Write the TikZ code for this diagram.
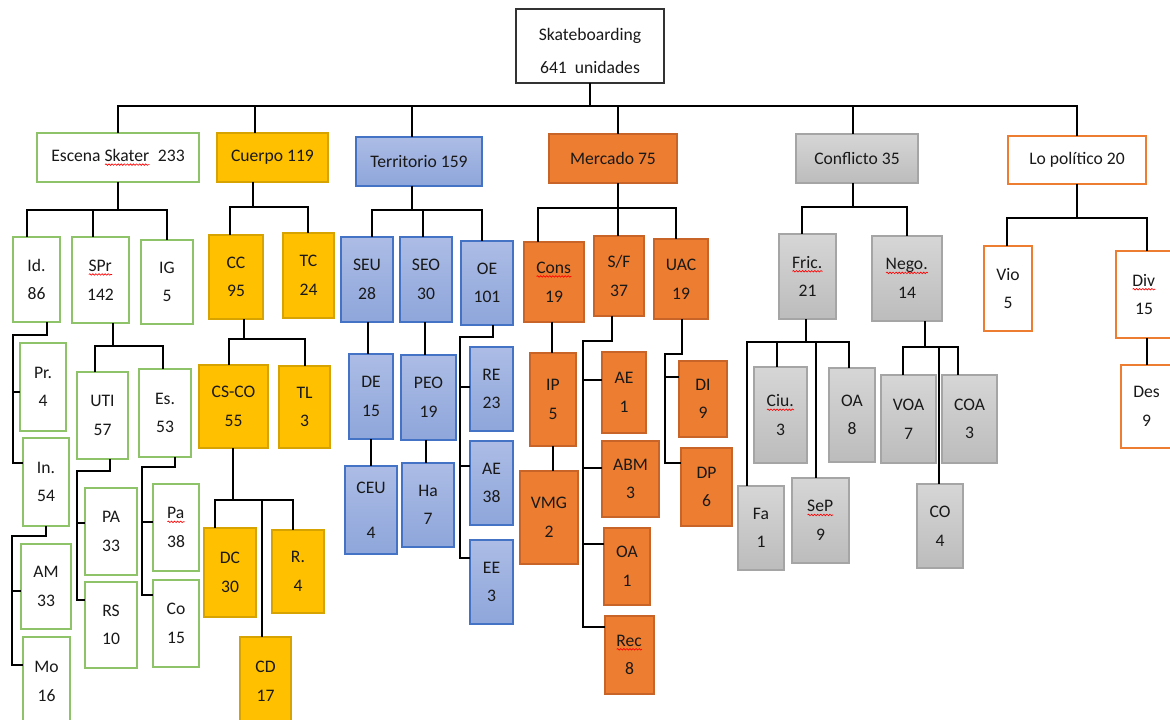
\documentclass[tikz,border=0pt]{standalone}
\usepackage{fontspec}
\setmainfont{Carlito}
\usetikzlibrary{decorations.pathmorphing}
\newcommand\sqw[1]{\setbox0\hbox{#1}\rlap{\usebox0}\tikz[baseline=0pt]{\draw[red,line width=0.5pt,decorate,decoration={snake,amplitude=0.55pt,segment length=2.3pt}] (0pt,-2.3pt) -- (\wd0,-2.3pt);}}
\definecolor{grnc}{RGB}{143,195,105}
\definecolor{goldc}{RGB}{255,192,0}
\definecolor{goldd}{RGB}{214,163,0}
\definecolor{orgc}{RGB}{237,125,49}
\definecolor{orgd}{RGB}{200,100,40}
\definecolor{blut}{RGB}{172,188,229}
\definecolor{blub}{RGB}{142,166,219}
\definecolor{blud}{RGB}{68,114,196}
\definecolor{gryt}{RGB}{214,214,214}
\definecolor{gryb}{RGB}{188,188,188}
\definecolor{gryd}{RGB}{165,165,165}
\definecolor{txt}{RGB}{25,25,25}
\tikzset{
 bxs/.style={rectangle, inner sep=0pt, outer sep=0pt, align=center, text=txt,
   font=\fontsize{13.2}{21.5}\selectfont, line width=1.1pt},
 rootbox/.style={bxs, draw=black!80, fill=white, line width=0.9pt},
 grn/.style={bxs, draw=grnc, fill=white},
 gold/.style={bxs, draw=goldd, fill=goldc},
 blu/.style={bxs, draw=blud, top color=blut, bottom color=blub},
 org/.style={bxs, draw=orgd, fill=orgc},
 gry/.style={bxs, draw=gryd, top color=gryt, bottom color=gryb},
 polbox/.style={bxs, draw=orgc, fill=white},
 conn/.style={line width=2pt, black}
}
\newcommand\bx[7]{\node[#1,minimum width={(#5-(#3))*0.75pt},minimum height={(#6-(#4))*0.75pt}] (#2) at ({(#3+#5)/2},{(#4+#6)/2}) {#7};}
\begin{document}
\begin{tikzpicture}[x=0.75pt,y=-0.75pt]
\useasboundingbox (0,0) rectangle (1170,720);
\fill[white] (0,0) rectangle (1170,720);
\clip (0,0) rectangle (1170,720);
% level 0 / 1
\bx{rootbox}{root}{516}{9}{664}{83}{\rule{0pt}{17pt}Skateboarding\\[3pt]641\ \ unidades}
\bx{grn}{esc}{37}{133}{199}{182}{Escena \sqw{Skater}\ \ 233}
\bx{gold}{cue}{217}{133}{328}{182}{Cuerpo 119}
\bx{blu}{ter}{356}{137}{482}{186}{Territorio 159}
\bx{org}{mer}{549}{134}{677}{183}{Mercado 75}
\bx{gry}{con}{796}{134}{918}{183}{Conflicto 35}
\bx{polbox}{pol}{1008}{136}{1146}{184}{Lo político 20}
% Escena
\bx{grn}{id}{13}{237}{60}{322}{Id.\\86}
\bx{grn}{spr}{72}{237}{129}{323}{\sqw{SPr}\\142}
\bx{grn}{ig}{141}{240}{193}{324}{IG\\5}
\bx{grn}{pr}{20}{343}{66}{431}{Pr.\\4}
\bx{grn}{inn}{23}{438}{69}{526}{In.\\54}
\bx{grn}{am}{21}{544}{71}{629}{AM\\33}
\bx{grn}{mo}{23}{637}{70}{726}{Mo\\16}
\bx{grn}{uti}{77}{372}{128}{459}{UTI\\57}
\bx{grn}{es}{139}{369}{191}{457}{Es.\\53}
\bx{grn}{pa}{85}{488}{137}{575}{PA\\33}
\bx{grn}{rs}{85}{582}{137}{668}{RS\\10}
\bx{grn}{paa}{153}{484}{199}{571}{\sqw{Pa}\\38}
\bx{grn}{co}{153}{580}{199}{667}{Co\\15}
% Cuerpo
\bx{gold}{cc}{209}{235}{263}{319}{CC\\95}
\bx{gold}{tc}{283}{233}{334}{318}{TC\\24}
\bx{gold}{csco}{199}{365}{268}{448}{CS-CO\\55}
\bx{gold}{tl}{279}{366}{330}{448}{TL\\3}
\bx{gold}{dc}{204}{528}{256}{617}{DC\\30}
\bx{gold}{rr}{272}{530}{324}{613}{R.\\4}
\bx{gold}{cd}{240}{637}{291}{726}{CD\\17}
% Territorio
\bx{blu}{seu}{341}{237}{393}{322}{SEU\\28}
\bx{blu}{seo}{400}{237}{452}{322}{SEO\\30}
\bx{blu}{oe}{461}{241}{513}{325}{OE\\101}
\bx{blu}{de}{349}{354}{393}{439}{DE\\15}
\bx{blu}{ceu}{345}{466}{397}{554}{CEU\\[12pt]4}
\bx{blu}{peo}{401}{355}{456}{440}{PEO\\19}
\bx{blu}{ha}{402}{463}{454}{547}{Ha\\7}
\bx{blu}{re}{470}{347}{513}{431}{RE\\23}
\bx{blu}{ae}{470}{441}{513}{525}{AE\\38}
\bx{blu}{ee}{470}{540}{513}{624}{EE\\3}
% Mercado
\bx{org}{cons}{524}{242}{584}{322}{\sqw{Cons}\\19}
\bx{org}{sf}{594}{236}{644}{316}{S/F\\37}
\bx{org}{uac}{654}{239}{708}{319}{UAC\\19}
\bx{org}{ip}{530}{353}{576}{446}{IP\\5}
\bx{org}{vmg}{520}{471}{578}{564}{VMG\\2}
\bx{org}{aeb}{602}{352}{646}{433}{AE\\1}
\bx{org}{abm}{602}{441}{659}{517}{ABM\\3}
\bx{org}{oa}{604}{528}{650}{605}{OA\\1}
\bx{org}{rec}{605}{616}{654}{694}{\sqw{Rec}\\8}
\bx{org}{di}{679}{361}{727}{437}{DI\\9}
\bx{org}{dp}{681}{448}{732}{526}{DP\\6}
% Conflicto
\bx{gry}{fric}{779}{234}{836}{319}{\sqw{Fric.}\\21}
\bx{gry}{nego}{872}{236}{942}{321}{\sqw{Nego.}\\14}
\bx{gry}{ciu}{754}{367}{807}{463}{\sqw{Ciu.}\\3}
\bx{gry}{oac}{829}{368}{875}{462}{OA\\8}
\bx{gry}{fa}{738}{486}{784}{570}{Fa\\1}
\bx{gry}{sep}{792}{478}{849}{563}{\sqw{SeP}\\9}
\bx{gry}{voa}{881}{375}{936}{463}{VOA\\7}
\bx{gry}{coa}{942}{375}{997}{463}{COA\\3}
\bx{gry}{cof}{917}{484}{963}{568}{CO\\4}
% Lo politico
\bx{polbox}{vio}{984}{246}{1032}{331}{Vio\\5}
\bx{polbox}{div}{1116}{251}{1172}{338}{\sqw{Div}\\15}
\bx{polbox}{des}{1121}{365}{1172}{448}{Des\\9}
% ---- connectors
\draw[conn] (root.south) -- (root.south|-0,106);
\draw[conn] (esc.north) |- (pol.north|-0,106) -- (pol.north);
\foreach \n/\x in {cue/255,ter/412,mer/618,con/853} \draw[conn] (\x,106) -- (\n.north-|\x,0);
% Escena
\draw[conn] (esc.south) -- (esc.south|-0,210);
\draw[conn] (id.north-|27,0) |- (167,210) -- (ig.north-|167,0);
\draw[conn] (93,210) -- (spr.north-|93,0);
\draw[conn] (id.south-|47,0) |- (13,335) |- (inn.west|-0,463);
\draw[conn] (13,392) -- (pr.west|-0,392);
\draw[conn] (inn.south-|46,0) |- (12,536) |- (mo.west|-0,665);
\draw[conn] (12,591) -- (am.west|-0,591);
\draw[conn] (spr.south-|113,0) -- (113,346);
\draw[conn] (uti.north-|95,0) |- (163,346) -- (es.north-|163,0);
\draw[conn] (uti.south-|110,0) |- (77,471) |- (rs.west|-0,600);
\draw[conn] (77,523) -- (pa.west|-0,523);
\draw[conn] (es.south-|175,0) |- (142,467) |- (co.west|-0,595);
\draw[conn] (142,522) -- (paa.west|-0,522);
% Cuerpo
\draw[conn] (cue.south-|253,0) -- (253,207);
\draw[conn] (cc.north-|230,0) |- (308,207) -- (tc.north-|308,0);
\draw[conn] (cc.south-|244,0) -- (244,339);
\draw[conn] (csco.north-|229,0) |- (305,339) -- (tl.north-|305,0);
\draw[conn] (csco.south-|233,0) -- (233,500);
\draw[conn] (dc.north-|215,0) |- (293,500) -- (rr.north-|293,0);
\draw[conn] (262,500) -- (cd.north-|262,0);
% Territorio
\draw[conn] (ter.south-|412,0) -- (412,210);
\draw[conn] (seu.north-|372,0) |- (482,210) -- (oe.north-|482,0);
\draw[conn] (423,210) -- (seo.north-|423,0);
\draw[conn] (seu.south-|368,0) -- (de.north-|368,0);
\draw[conn] (de.south-|371,0) -- (ceu.north-|371,0);
\draw[conn] (seo.south-|425,0) -- (peo.north-|425,0);
\draw[conn] (peo.south-|426,0) -- (ha.north-|426,0);
\draw[conn] (oe.south-|493,0) |- (460,337) |- (ee.west|-0,558);
\draw[conn] (460,387) -- (re.west|-0,387);
\draw[conn] (460,466) -- (ae.west|-0,466);
% Mercado
\draw[conn] (mer.south-|618,0) -- (618,208);
\draw[conn] (cons.north-|538,0) |- (676,208) -- (uac.north-|676,0);
\draw[conn] (618,208) -- (sf.north-|618,0);
\draw[conn] (cons.south-|552,0) -- (ip.north-|552,0);
\draw[conn] (ip.south-|553,0) -- (vmg.north-|553,0);
\draw[conn] (sf.south-|612,0) |- (583,341) |- (rec.west|-0,627);
\draw[conn] (583,380) -- (aeb.west|-0,380);
\draw[conn] (583,468) -- (abm.west|-0,468);
\draw[conn] (583,544) -- (oa.west|-0,544);
\draw[conn] (uac.south-|682,0) |- (665,354) |- (dp.west|-0,463);
\draw[conn] (665,377) -- (di.west|-0,377);
% Conflicto
\draw[conn] (con.south-|853,0) -- (853,207);
\draw[conn] (fric.north-|802,0) |- (907,207) -- (nego.north-|907,0);
\draw[conn] (fric.south-|806,0) -- (806,342);
\draw[conn] (fa.north-|747,0) |- (849,342) -- (oac.north-|849,0);
\draw[conn] (777,342) -- (ciu.north-|777,0);
\draw[conn] (816,342) -- (sep.north-|816,0);
\draw[conn] (nego.south-|925,0) -- (925,347);
\draw[conn] (voa.north-|903,0) |- (958,347) -- (coa.north-|958,0);
\draw[conn] (939,347) -- (cof.north-|939,0);
% Lo politico
\draw[conn] (pol.south) -- (pol.south|-0,218);
\draw[conn] (vio.north-|1007,0) |- (1147,218) -- (div.north-|1147,0);
\draw[conn] (div.south-|1147,0) -- (des.north-|1147,0);
\end{tikzpicture}
\end{document}
